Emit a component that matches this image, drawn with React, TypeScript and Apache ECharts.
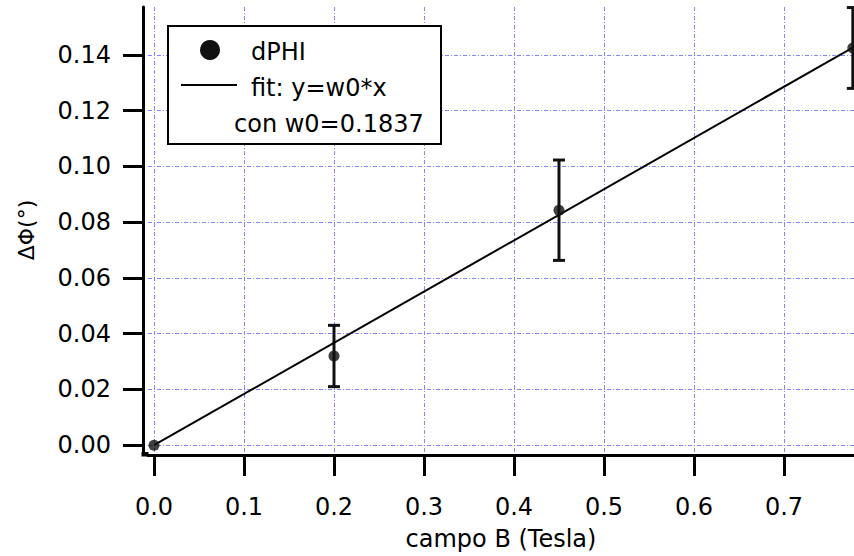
import React, { useEffect, useRef } from 'react';
import * as echarts from 'echarts';

// Axis tick positions
const X_TICKS = [0, 0.1, 0.2, 0.3, 0.4, 0.5, 0.6, 0.7];
const Y_TICKS = [0, 0.02, 0.04, 0.06, 0.08, 0.1, 0.12, 0.14];

// Measured phase shift vs magnetic field
const fieldB = [0, 0.2, 0.45, 0.7765];
const dPhi = [0, 0.032, 0.0843, 0.1425];
const dPhiErr = [0, 0.011, 0.018, 0.0145];

// Linear fit y = w0 * x
const W0 = 0.1837;
const fitX = [0, 0.778];

const FONT = '"DejaVu Sans", "Liberation Sans", sans-serif';
const GRID_COLOR = '#8585ff';

export default function App() {
  const ref = useRef<HTMLDivElement>(null);

  useEffect(() => {
    if (!ref.current) return;
    const chart = echarts.init(ref.current, undefined, { renderer: 'svg' });

    const points = fieldB.map((x, i) => [x, dPhi[i]]);
    const bars = fieldB.map((x, i) => [x, dPhi[i] - dPhiErr[i], dPhi[i] + dPhiErr[i]]);
    const fit = fitX.map((x) => [x, W0 * x]);

    const splitLine = {
      show: true,
      lineStyle: { color: GRID_COLOR, width: 1, type: [4, 2, 1, 2] as number[] },
    };

    chart.setOption({
      animation: false,
      backgroundColor: '#fff',
      grid: { left: 148, top: 7, right: 0, bottom: 103, containLabel: false },
      xAxis: {
        type: 'value',
        min: -0.00667,
        max: 0.7778,
        offset: 2,
        name: 'campo B (Tesla)',
        nameLocation: 'middle',
        nameGap: 72,
        nameTextStyle: { color: '#000', fontSize: 24, fontFamily: FONT },
        axisLine: { show: true, onZero: false, lineStyle: { color: '#000', width: 3 } },
        axisTick: {
          show: true,
          inside: false,
          length: 21,
          customValues: X_TICKS,
          lineStyle: { color: '#000', width: 3 },
        },
        axisLabel: {
          customValues: X_TICKS,
          margin: 40,
          color: '#000',
          fontSize: 24,
          fontFamily: FONT,
          formatter: (v: number) => v.toFixed(1),
        },
        splitLine,
      },
      yAxis: {
        type: 'value',
        min: -0.0028,
        max: 0.1572,
        offset: 5,
        name: 'ΔΦ(°)',
        nameLocation: 'middle',
        nameGap: 106,
        nameTextStyle: { color: '#000', fontSize: 22, fontFamily: FONT },
        axisLine: { show: true, onZero: false, lineStyle: { color: '#000', width: 3 } },
        axisTick: {
          show: true,
          inside: false,
          length: 20,
          customValues: Y_TICKS,
          lineStyle: { color: '#000', width: 3 },
        },
        axisLabel: {
          customValues: Y_TICKS,
          margin: 32,
          color: '#000',
          fontSize: 24,
          fontFamily: FONT,
          formatter: (v: number) => v.toFixed(2),
        },
        splitLine,
      },
      series: [
        {
          name: 'errors',
          type: 'custom',
          clip: false,
          data: bars,
          renderItem: (_params: any, api: any) => {
            const x = api.value(0);
            const lo = api.value(1);
            const hi = api.value(2);
            if (hi - lo <= 0) return { type: 'group', children: [] };
            const top = api.coord([x, hi]);
            const bot = api.coord([x, lo]);
            const cap = 6;
            const style = { stroke: '#111', lineWidth: 3, lineCap: 'butt' };
            return {
              type: 'group',
              children: [
                { type: 'line', shape: { x1: top[0], y1: top[1], x2: bot[0], y2: bot[1] }, style },
                { type: 'line', shape: { x1: top[0] - cap, y1: top[1], x2: top[0] + cap, y2: top[1] }, style },
                { type: 'line', shape: { x1: bot[0] - cap, y1: bot[1], x2: bot[0] + cap, y2: bot[1] }, style },
              ],
            };
          },
          z: 2,
        },
        {
          name: 'fit: y=w0*x',
          type: 'line',
          data: fit,
          showSymbol: false,
          lineStyle: { color: '#000', width: 2 },
          z: 3,
        },
        {
          name: 'dPHI',
          type: 'scatter',
          data: points,
          symbol: 'circle',
          symbolSize: 11,
          itemStyle: { color: '#111' },
          clip: false,
          z: 4,
        },
      ],
      graphic: [
        // join the offset axis lines at the corner
        { type: 'rect', z: 50, shape: { x: 141.5, y: 452, width: 7, height: 4.5 }, style: { fill: '#000' } },
        // legend box
        {
          type: 'rect',
          z: 100,
          shape: { x: 168, y: 26, width: 273, height: 118 },
          style: { fill: '#fff', stroke: '#000', lineWidth: 2 },
        },
        { type: 'circle', z: 101, shape: { cx: 210, cy: 50, r: 10 }, style: { fill: '#111' } },
        {
          type: 'line',
          z: 101,
          shape: { x1: 181, y1: 85, x2: 237, y2: 85 },
          style: { stroke: '#000', lineWidth: 2 },
        },
        {
          type: 'text',
          z: 101,
          style: {
            text: 'dPHI', x: 251, y: 52, fill: '#000', font: `24px ${FONT}`,
            textAlign: 'left', textVerticalAlign: 'middle', align: 'left', verticalAlign: 'middle',
          },
        },
        {
          type: 'text',
          z: 101,
          style: {
            text: 'fit: y=w0*x', x: 251, y: 88, fill: '#000', font: `24px ${FONT}`,
            textAlign: 'left', textVerticalAlign: 'middle', align: 'left', verticalAlign: 'middle',
          },
        },
        {
          type: 'text',
          z: 101,
          style: {
            text: 'con w0=' + W0.toFixed(4), x: 234, y: 124, fill: '#000', font: `24px ${FONT}`,
            textAlign: 'left', textVerticalAlign: 'middle', align: 'left', verticalAlign: 'middle',
          },
        },
      ],
    });

    return () => chart.dispose();
  }, []);

  return (
    <div
      ref={ref}
      style={{ position: 'fixed', left: 0, top: 0, width: 854, height: 556, background: '#fff' }}
    />
  );
}
